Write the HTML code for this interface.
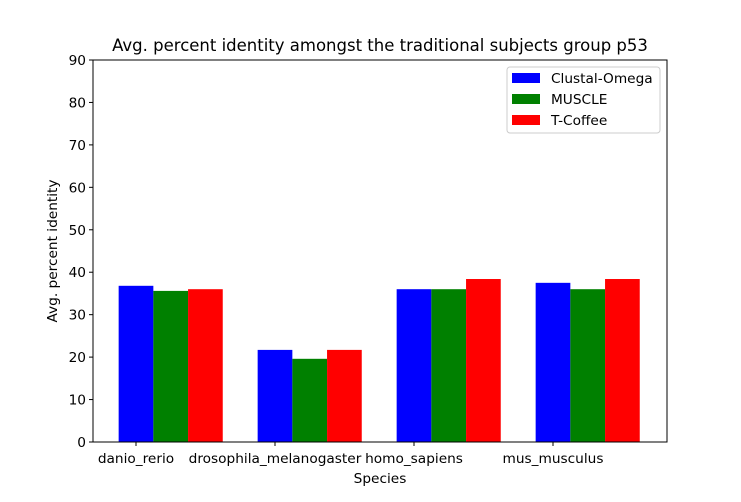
<!DOCTYPE html>
<html><head><meta charset="utf-8"><style>
body{margin:0;background:#fff;font-family:"Liberation Sans","DejaVu Sans",sans-serif}
text{font-family:"DejaVu Sans","Liberation Sans",sans-serif}
</style></head><body>
<svg id="chart" width="741" height="497" xmlns="http://www.w3.org/2000/svg"></svg>
<script>
const categories=["danio_rerio","drosophila_melanogaster","homo_sapiens","mus_musculus"];
const clustal=[36.8,21.7,36.0,37.5];
const muscle=[35.6,19.6,36.0,36.0];
const tcoffee=[36.0,21.7,38.4,38.4];
const yTicks=[0,10,20,30,40,50,60,70,80,90];
const seriesNames=["Clustal-Omega","MUSCLE","T-Coffee"];
const colors=["#0000ff","#008000","#ff0000"];
const series=[clustal,muscle,tcoffee];

const svg=document.getElementById('chart');
const NS="http://www.w3.org/2000/svg";
const L=93,R=667,T=60,B=442;
const x=v=>136+(v)*139;
const y=v=>B-(v/90)*(B-T);
const bw=34.7;
const FS=13.7;
function mk(tag,attrs,parent){const e=document.createElementNS(NS,tag);for(const k in attrs)e.setAttribute(k,attrs[k]);(parent||svg).appendChild(e);return e;}

series.forEach((s,si)=>{
  s.forEach((v,i)=>{
    const r=mk('rect',{x:x(i)-bw/2+si*bw,y:y(v),width:bw,height:B-y(v),fill:colors[si]});
    
    
  });
});
const frame=mk('rect',{x:L,y:T,width:R-L,height:B-T,fill:'none',stroke:'#000','stroke-width':1});



yTicks.forEach(t=>{
  mk('line',{x1:L-4,x2:L,y1:y(t),y2:y(t),stroke:'#000'});
  const tx=mk('text',{x:L-7,y:y(t)+5,'text-anchor':'end','font-size':FS});
  tx.textContent=t;
  
  
});
categories.forEach((c,i)=>{
  mk('line',{x1:x(i),x2:x(i),y1:B,y2:B+4,stroke:'#000'});
  const tx=mk('text',{x:x(i),y:B+21,'text-anchor':'middle','font-size':FS});
  tx.textContent=c;
  
  
});
const title=mk('text',{x:(L+R)/2,y:51,'text-anchor':'middle','font-size':16.5});
title.textContent="Avg. percent identity amongst the traditional subjects group p53";


const xt=mk('text',{x:(L+R)/2,y:483,'text-anchor':'middle','font-size':FS});
xt.textContent="Species";


const yt=mk('text',{x:57,y:(T+B)/2,'text-anchor':'middle','font-size':FS,transform:'rotate(-90 57 '+((T+B)/2)+')'});
yt.textContent="Avg. percent identity";



const lg=mk('g',{});


mk('rect',{x:507,y:67,width:153,height:66,rx:3,fill:'#fff',stroke:'#ccc'},lg);
seriesNames.forEach((n,i)=>{
  const yy=78+i*21;
  const sw=mk('rect',{x:512,y:yy-5,width:28,height:10,fill:colors[i]},lg);
  
  
  const tx=mk('text',{x:551,y:yy+5,'font-size':FS},lg);
  tx.textContent=n;
  
  
});
</script>
</body></html>
